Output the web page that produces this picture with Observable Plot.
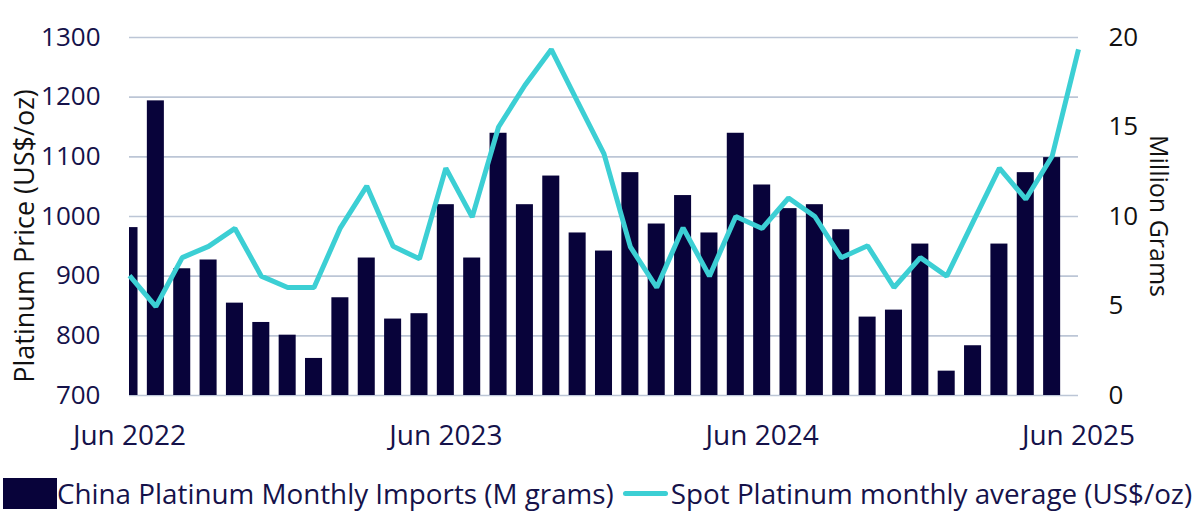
<!DOCTYPE html>
<html>
<head>
<meta charset="utf-8">
<script src="https://cdn.jsdelivr.net/npm/d3@7"></script>
<script src="https://cdn.jsdelivr.net/npm/@observablehq/plot@0.6"></script>
<style>
  html, body { margin: 0; padding: 0; background: #fff; }
  body { width: 1200px; height: 519px; overflow: hidden; font-family: "Open Sans", sans-serif; }
  #legend { display: flex; align-items: center; height: 46px; color: #15124a; font-size: 27.8px; white-space: nowrap; }
  #legend .sq { width: 54px; height: 31px; background: #08033a; margin-left: 3px; }
  #legend .ln { width: 45px; height: 5px; border-radius: 3px; background: #3ccfd4; margin: 0 3px 0 9px; }
</style>
</head>
<body>
<div id="chart"></div>
<div id="legend">
  <div class="sq"></div><span id="lg1"></span>
  <div class="ln"></div><span id="lg2"></span>
</div>
<script>
// Months from Jun 2022 (index 0) to Jun 2025 (index 36)
const tickMonths = [0, 12, 24, 36];
const tickLabels = ["Jun 2022", "Jun 2023", "Jun 2024", "Jun 2025"];

// China Platinum Monthly Imports (M grams), Jun 2022 .. May 2025
const imports = [9.38, 16.46, 7.08, 7.57, 5.16, 4.08, 3.37, 2.07, 5.46, 7.68, 4.27, 4.57,
                 10.66, 7.68, 14.65, 10.66, 12.26, 9.08, 8.07, 12.45, 9.58, 11.17, 9.08, 14.65,
                 11.76, 10.44, 10.66, 9.26, 4.38, 4.77, 8.46, 1.36, 2.78, 8.46, 12.45, 13.29];

// Spot Platinum monthly average (US$/oz), Jun 2022 .. Jun 2025
const price = [901, 849, 931, 950, 980, 900, 881, 881, 981, 1051, 950, 929,
               1081, 999, 1150, 1220, 1280, 1192, 1105, 949, 881, 981, 900, 1000,
               980, 1031, 1000, 931, 951, 881, 931, 900, 991, 1081, 1029, 1101, 1280];

const leftTicks = [700, 800, 900, 1000, 1100, 1200, 1300];
const rightTicks = [0, 5, 10, 15, 20];

const seriesNames = ["China Platinum Monthly Imports (M grams)", "Spot Platinum monthly average (US$/oz)"];
const yTitleLeft = "Platinum Price (US$/oz)";
const yTitleRight = "Million Grams";

// dual-axis mapping: 0..20 M grams onto 700..1300 US$/oz
const toLeft = v => 700 + v * 30;

const barData = imports.map((v, i) => ({i, v}));
const lineData = price.map((p, i) => ({i, p}));

const navy = "#08033a";
const cyan = "#3ccfd4";
const grid = "#bcc6d6";

const W = 1200, H = 470;
const plot = Plot.plot({
  width: W,
  height: H,
  marginLeft: 129,
  marginRight: 122,
  marginTop: 37,
  marginBottom: 75,
  style: {fontFamily: "Open Sans, sans-serif", background: "#fff"},
  x: {type: "linear", domain: [0, 36]},
  y: {domain: [700, 1300]},
  marks: [
    Plot.ruleY(leftTicks, {stroke: grid, strokeWidth: 1.6}),
    Plot.rectY(barData, {
      x1: d => d.i - 0.323, x2: d => d.i + 0.323,
      y1: 700, y2: d => toLeft(d.v),
      fill: navy, clip: true
    }),
    Plot.line(lineData, {x: "i", y: "p", stroke: cyan, strokeWidth: 5, strokeLinejoin: "miter", strokeLinecap: "butt"}),
    Plot.axisY(leftTicks, {anchor: "left", tickSize: 0, tickPadding: 29, fontSize: 26, fill: "#15124a",
      tickFormat: d => String(d), label: null}),
    Plot.axisY(rightTicks.map(toLeft), {anchor: "right", tickSize: 0, tickPadding: 30, fontSize: 26, fill: "#111", textAnchor: "start",
      tickFormat: d => String((d - 700) / 30), label: null}),
    Plot.axisX(tickMonths, {anchor: "bottom", tickSize: 0, tickPadding: 30, fontSize: 28, fill: "#15124a",
      tickFormat: d => tickLabels[tickMonths.indexOf(d)], label: null})
  ]
});
document.getElementById("chart").appendChild(plot);

const svg = d3.select(plot);
svg.append("text")
  .attr("transform", "translate(23,236) rotate(-90)")
  .attr("text-anchor", "middle").attr("dominant-baseline", "central")
  .attr("font-size", 27).attr("fill", "#111").attr("font-family", "Open Sans, sans-serif")
  .text(yTitleLeft);
svg.append("text")
  .attr("transform", "translate(1160,216) rotate(90)")
  .attr("text-anchor", "middle").attr("dominant-baseline", "central")
  .attr("font-size", 25).attr("fill", "#111").attr("font-family", "Open Sans, sans-serif")
  .text(yTitleRight);

document.getElementById("lg1").textContent = seriesNames[0];
document.getElementById("lg2").textContent = seriesNames[1];
</script>
</body>
</html>
